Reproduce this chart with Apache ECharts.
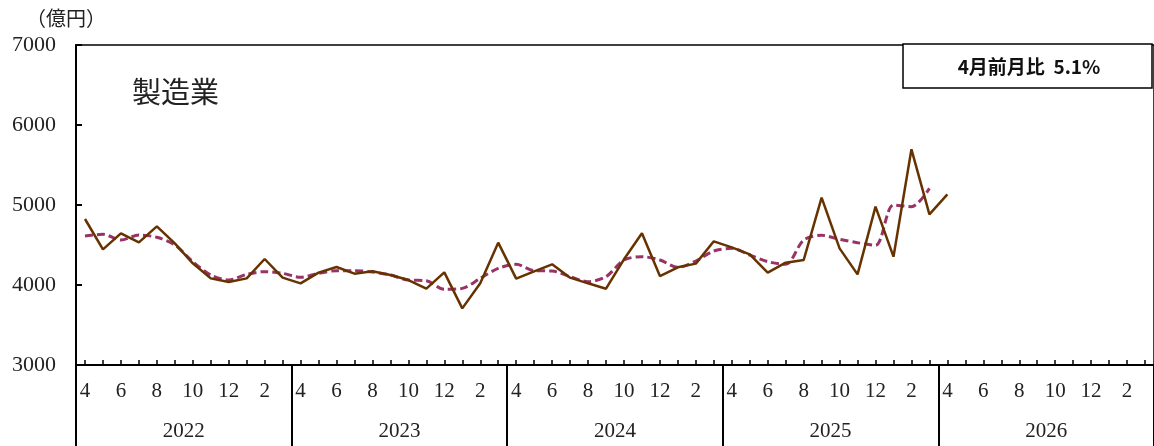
<!DOCTYPE html>
<html><head><meta charset="utf-8">
<script src="https://cdn.jsdelivr.net/npm/echarts@6/dist/echarts.min.js"></script>
<style>html,body{margin:0;padding:0;background:#fff}#c{width:1154px;height:446px}</style>
</head><body><div id="c"></div>
<script>
// Categories: fiscal years (April start), monthly
const years = ['2022', '2023', '2024', '2025', '2026'];
const monthOrder = [4, 5, 6, 7, 8, 9, 10, 11, 12, 1, 2, 3];
const yTicks = [3000, 4000, 5000, 6000, 7000];
// Actual monthly value (億円), Apr 2022 .. Apr 2026
const actual = [4825, 4446, 4646, 4533, 4733, 4520, 4271, 4083, 4037, 4083, 4325, 4092,
  4021, 4154, 4225, 4142, 4171, 4125, 4062, 3954, 4158, 3708, 4021, 4529,
  4079, 4171, 4258, 4092, 4021, 3954, 4321, 4646, 4112, 4221, 4267, 4546,
  4471, 4383, 4154, 4279, 4312, 5092, 4458, 4133, 4979, 4354, 5696, 4883,
  5133];
// 3-month moving average (dashed), Apr 2022 .. Mar 2026
const movingAvg = [4612, 4633, 4562, 4625, 4596, 4500, 4292, 4125, 4062, 4133, 4167, 4146,
  4096, 4146, 4179, 4179, 4162, 4125, 4062, 4054, 3946, 3958, 4083, 4208,
  4258, 4179, 4175, 4104, 4042, 4104, 4312, 4354, 4312, 4221, 4300, 4425,
  4458, 4375, 4292, 4258, 4562, 4621, 4571, 4529, 4496, 5000, 4979, 5208];
const panelTitle = '製造業';
const unitLabel = '（億円）';
const noteText = '4月前月比  5.1%';

const categories = [];
years.forEach(y => monthOrder.forEach(m => categories.push(y + '-' + m)));

const serif = "'Liberation Serif','DejaVu Serif',serif";
const cjk = "'Noto Sans CJK JP','Noto Sans',sans-serif";

const chart = echarts.init(document.getElementById('c'), null, {renderer: 'canvas'});
chart.setOption({
  animation: false,
  backgroundColor: '#fff',
  grid: {left: 76, top: 45, width: 1080, height: 320, show: true, borderColor: '#000', borderWidth: 1.5, backgroundColor: 'transparent'},
  xAxis: [{
    type: 'category', data: categories, boundaryGap: true,
    axisLine: {show: true, lineStyle: {color: '#000', width: 2}},
    axisTick: {show: true, inside: true, length: 5, alignWithLabel: true, interval: 0, lineStyle: {color: '#000', width: 1.5}},
    axisLabel: {interval: 1, margin: 16, color: '#222', fontFamily: serif, fontSize: 21,
      formatter: v => v.split('-')[1]},
    splitLine: {show: false}
  }, {
    type: 'category', data: years, boundaryGap: true, position: 'bottom',
    axisLine: {show: false},
    axisTick: {show: true, inside: false, length: 82, interval: 0, lineStyle: {color: '#000', width: 2}},
    axisLabel: {interval: 0, margin: 56, color: '#222', fontFamily: serif, fontSize: 21},
    splitLine: {show: false}
  }],
  yAxis: {
    type: 'value', min: yTicks[0], max: yTicks[yTicks.length - 1], interval: 1000,
    axisLine: {show: true, lineStyle: {color: '#000', width: 2}},
    axisTick: {show: true, inside: true, length: 6, lineStyle: {color: '#000', width: 2}},
    axisLabel: {margin: 20, color: '#222', fontFamily: serif, fontSize: 22, formatter: v => String(v)},
    splitLine: {show: false}
  },
  series: [{
    name: 'actual', type: 'line', data: actual, symbol: 'none',
    lineStyle: {color: '#663300', width: 2.5}, z: 3
  }, {
    name: 'avg', type: 'line', data: movingAvg, symbol: 'none', smooth: 0.3,
    lineStyle: {color: '#993366', width: 3, type: [8, 4]}, z: 2
  }],
  graphic: [
    {type: 'text', left: 26, top: 8, style: {text: unitLabel, font: "20px " + cjk, fill: '#222'}},
    {type: 'text', left: 132, top: 77, style: {text: panelTitle, font: "29px " + cjk, fill: '#222'}},
    {type: 'rect', shape: {x: 903, y: 44, width: 249, height: 44}, style: {fill: '#fff', stroke: '#000', lineWidth: 1.5}, z: 10},
    {type: 'text', x: 1029, y: 67, style: {text: noteText, font: "bold 19px " + cjk, fill: '#111', align: 'center', verticalAlign: 'middle'}, z: 11}
  ]
});
</script></body></html>
